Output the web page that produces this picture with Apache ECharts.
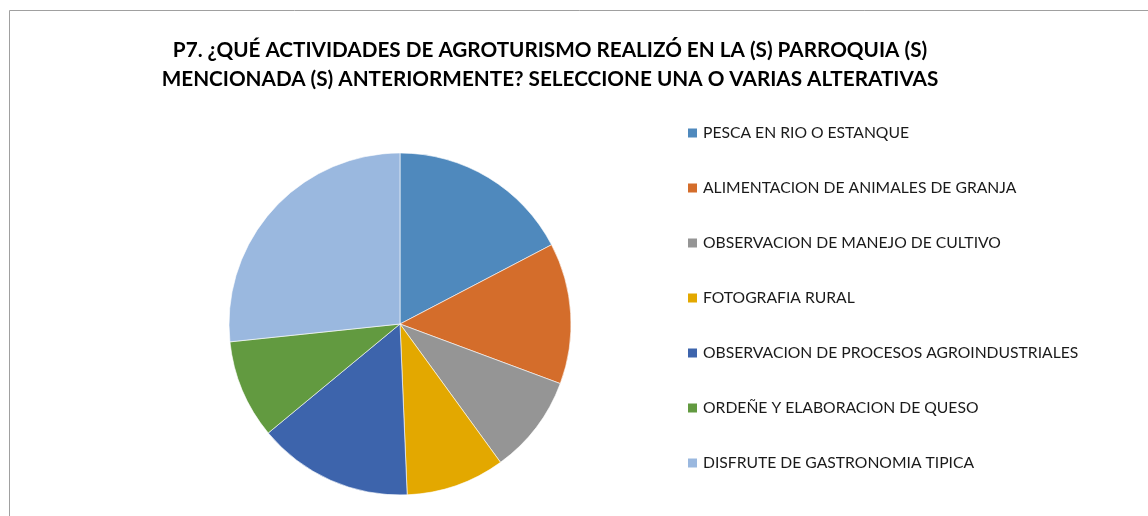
<!DOCTYPE html>
<html>
<head>
<meta charset="utf-8">
<script src="https://cdn.jsdelivr.net/npm/echarts@6/dist/echarts.min.js"></script>
<style>
  html, body { margin: 0; padding: 0; background: #fff; }
  #chart { width: 1148px; height: 516px; }
</style>
</head>
<body>
<div id="chart"></div>
<script>
const categories = [
  'PESCA EN RIO O ESTANQUE',
  'ALIMENTACION DE ANIMALES DE GRANJA',
  'OBSERVACION DE MANEJO DE CULTIVO',
  'FOTOGRAFIA RURAL',
  'OBSERVACION DE PROCESOS AGROINDUSTRIALES',
  'ORDEÑE Y ELABORACION DE QUESO',
  'DISFRUTE DE GASTRONOMIA TIPICA'
];
const values = [13, 10, 7, 7, 11, 7, 20];
const colors = ['#4F89BD', '#D46D2B', '#959595', '#E3A800', '#3D64AC', '#629A40', '#9AB8DF'];

const chart = echarts.init(document.getElementById('chart'));
chart.setOption({
  backgroundColor: '#fff',
  animation: false,
  color: colors,
  title: {
    text: 'P7. ¿QUÉ ACTIVIDADES DE AGROTURISMO REALIZÓ EN LA (S) PARROQUIA (S)\nMENCIONADA (S) ANTERIORMENTE? SELECCIONE UNA O VARIAS ALTERATIVAS',
    left: 545,
    top: 31,
    textAlign: 'center',
    textStyle: {
      fontFamily: 'Lato',
      fontWeight: 'bold',
      fontSize: 20.7,
      lineHeight: 29,
      color: '#000'
    }
  },
  graphic: [{
    type: 'rect',
    shape: {x: 9.5, y: 10.5, width: 1300, height: 700},
    style: {fill: null, stroke: '#a0a0a0', lineWidth: 1},
    silent: true
  }],
  legend: {
    orient: 'vertical',
    left: 681,
    top: 120,
    icon: 'rect',
    itemWidth: 11,
    itemHeight: 11,
    itemGap: 39,
    selectedMode: false,
    textStyle: {
      fontFamily: 'Lato',
      fontSize: 15.7,
      lineHeight: 16,
      color: '#1a1a1a'
    },
    data: categories
  },
  series: [{
    type: 'pie',
    center: [400, 324],
    radius: 171,
    startAngle: 90,
    clockwise: true,
    label: {show: false},
    labelLine: {show: false},
    itemStyle: {borderColor: '#ffffff', borderWidth: 0.6},
    emphasis: {disabled: true},
    data: categories.map((name, i) => ({name, value: values[i]}))
  }]
});
</script>
</body>
</html>
